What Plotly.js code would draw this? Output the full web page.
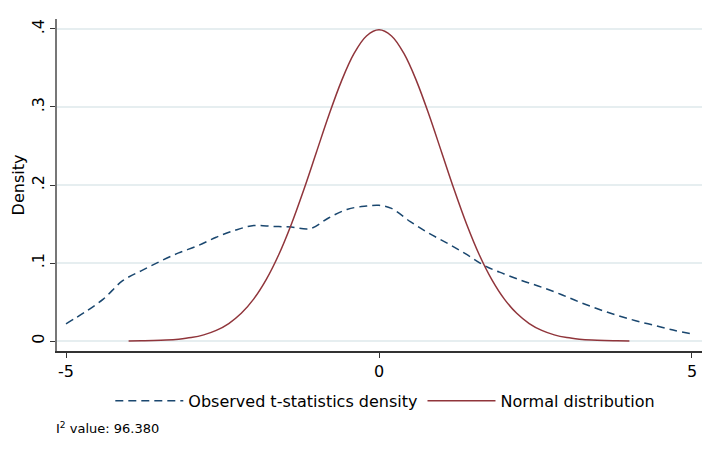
<!DOCTYPE html>
<html>
<head>
<meta charset="utf-8">
<script src="https://cdn.plot.ly/plotly-3.0.1.min.js"></script>
<style>html,body{margin:0;padding:0;background:#fff;}#chart{width:705px;height:453px;}</style>
</head>
<body>
<div id="chart"></div>
<script>
// Observed t-statistics kernel density
const obsX = [-5, -4.7, -4.4, -4.1, -3.8, -3.5, -3.2, -2.9, -2.6, -2.3, -2.0, -1.7, -1.4, -1.1, -0.8, -0.5, -0.2, 0, 0.2, 0.5, 0.8, 1.1, 1.4, 1.7, 2.0, 2.3, 2.6, 2.9, 3.2, 3.5, 3.8, 4.1, 4.4, 4.7, 5.0];
const obsY = [0.022, 0.037, 0.054, 0.077, 0.090, 0.102, 0.113, 0.122, 0.133, 0.142, 0.148, 0.147, 0.146, 0.144, 0.158, 0.169, 0.173, 0.174, 0.170, 0.153, 0.138, 0.125, 0.111, 0.096, 0.086, 0.077, 0.069, 0.060, 0.050, 0.041, 0.033, 0.026, 0.020, 0.014, 0.009];

// Normal distribution curve
const normX = [-4, -3.8, -3.6, -3.4, -3.2, -3, -2.8, -2.6, -2.4, -2.2, -2, -1.8, -1.6, -1.4, -1.2, -1, -0.8, -0.6, -0.4, -0.2, 0, 0.2, 0.4, 0.6, 0.8, 1, 1.2, 1.4, 1.6, 1.8, 2, 2.2, 2.4, 2.6, 2.8, 3, 3.2, 3.4, 3.6, 3.8, 4];
const normY = [0.0001, 0.0003, 0.0006, 0.0012, 0.0024, 0.0044, 0.0079, 0.0136, 0.0224, 0.0355, 0.0540, 0.0790, 0.1109, 0.1497, 0.1942, 0.2420, 0.2897, 0.3332, 0.3683, 0.3910, 0.3989, 0.3910, 0.3683, 0.3332, 0.2897, 0.2420, 0.1942, 0.1497, 0.1109, 0.0790, 0.0540, 0.0355, 0.0224, 0.0136, 0.0079, 0.0044, 0.0024, 0.0012, 0.0006, 0.0003, 0.0001];

const xTicks = [-5, 0, 5];
const xTickText = ["-5", "0", "5"];
const yTicks = [0, 0.1, 0.2, 0.3, 0.4];
const yTickText = ["0", ".1", ".2", ".3", ".4"];

const seriesNames = ["Observed t-statistics density", "Normal distribution"];
const noteText = "I<sup>2</sup> value: 96.380";

const fam = "DejaVu Sans, sans-serif";

const traces = [
  {x: obsX, y: obsY, mode: "lines", name: seriesNames[0],
   line: {color: "#1a476f", width: 1.5, dash: "8px,5px", shape: "spline", smoothing: 1}},
  {x: normX, y: normY, mode: "lines", name: seriesNames[1],
   line: {color: "#90353b", width: 1.5, shape: "spline", smoothing: 1}}
];

const layout = {
  width: 705, height: 453,
  margin: {l: 57, r: 3, t: 19, b: 102},
  paper_bgcolor: "#fff", plot_bgcolor: "#fff",
  font: {family: fam, size: 16, color: "#000"},
  showlegend: true,
  legend: {orientation: "h", x: 0.509, xanchor: "center", y: -0.15, yanchor: "middle",
           font: {family: fam, size: 16, color: "#000"},
           itemwidth: 68, tracegroupgap: 0, bgcolor: "rgba(0,0,0,0)"},
  xaxis: {range: [-5.144, 5.16], tickvals: xTicks, ticktext: xTickText,
          showgrid: false, zeroline: false, showline: true, linecolor: "#333", linewidth: 1.5,
          ticks: "outside", ticklen: 5, tickcolor: "#333", tickwidth: 1,
          tickfont: {family: fam, size: 16, color: "#000"}},
  yaxis: {range: [-0.0128, 0.4128], tickvals: yTicks, ticktext: yTickText, tickangle: -90,
          showgrid: true, gridcolor: "#e6eef0", gridwidth: 1.2, zeroline: false,
          showline: true, linecolor: "#777", linewidth: 1.8,
          ticks: "outside", ticklen: 5, tickcolor: "#333", tickwidth: 1,
          tickfont: {family: fam, size: 16, color: "#000"},
          title: {text: "Density", font: {family: fam, size: 16, color: "#000"}, standoff: 0}},
  annotations: [
    {text: noteText, xref: "paper", yref: "paper", x: -0.005, y: -0.232, xanchor: "left", yanchor: "middle",
     showarrow: false, font: {family: fam, size: 13, color: "#000"}}
  ]
};

Plotly.newPlot("chart", traces, layout, {displayModeBar: false, staticPlot: true});
</script>
</body>
</html>
